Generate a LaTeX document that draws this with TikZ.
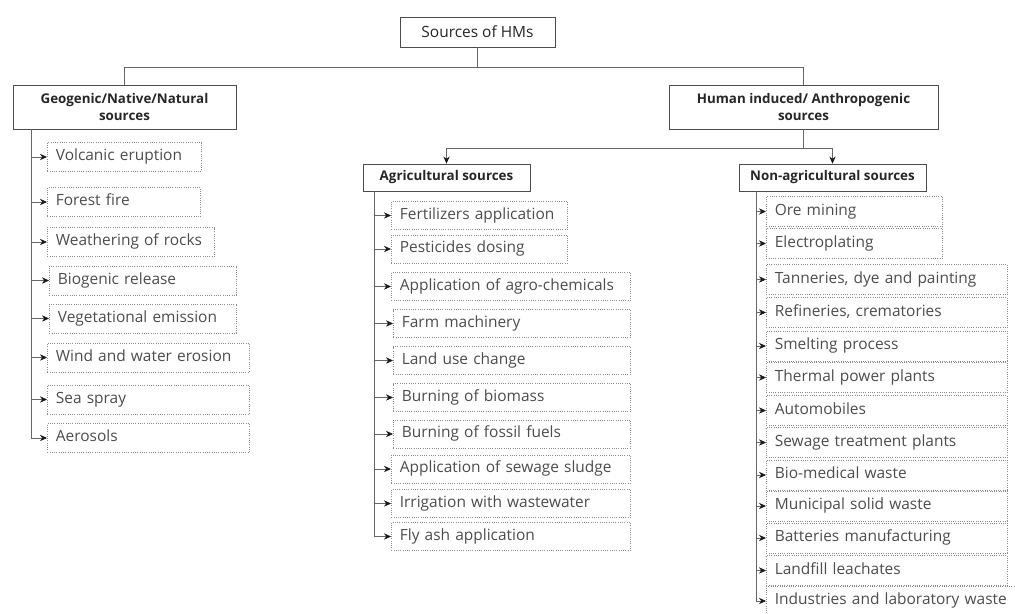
\documentclass[tikz,border=0pt]{standalone}
\usepackage{fontspec}
\setmainfont{Open Sans}
\usetikzlibrary{arrows.meta}
\newdimen\pxu \pxu=0.7113pt

\tikzset{
  head/.style={draw=black!70, line width=0.6pt, align=center, text=black!85,
    font=\fontsize{9.5}{12}\selectfont\bfseries, inner sep=0pt},
  leaf/.style={draw=black!45, densely dotted, line width=0.6pt, anchor=west, align=left,
    text=black!70, font=\fontsize{11}{13}\selectfont, inner xsep=6pt, inner ysep=0pt,
    text height=7.5pt, text depth=2.5pt, minimum height=#1},
  link/.style={draw=black!60, line width=0.5pt},
  tip/.style={link, -{Stealth[length=5pt, width=4.5pt, color=black!90]}}
}

\begin{document}
\begin{tikzpicture}[x=0.025cm, y=-0.025cm]
  \path[use as bounding box, clip] (0,0) rectangle (1015,613);

  % Nodes
  \node[head, font=\fontsize{11}{13}\selectfont, minimum width=155*\pxu, minimum height=30*\pxu] (root) at (477.5,32) {Sources of HMs};
  \node[head, minimum width=223*\pxu, minimum height=44*\pxu] (geo) at (124.5,107) {Geogenic/Native/Natural\\sources};
  \node[head, minimum width=269*\pxu, minimum height=44*\pxu] (hum) at (803.5,107) {Human induced/ Anthropogenic\\sources};
  \node[head, minimum width=167*\pxu, minimum height=27*\pxu] (agr) at (446.5,177.5) {Agricultural sources};
  \node[head, minimum width=187*\pxu, minimum height=27*\pxu] (nagr) at (832.5,177.5) {Non-agricultural sources};

  % Natural sources
  \foreach \i/\x/\y/\w/\txt in {1/47/157/154/Volcanic eruption, 2/47/202/153/Forest fire,
    3/47/242/167/Weathering of rocks, 4/49/280.5/187/Biogenic release,
    5/49/318.5/187/Vegetational emission, 6/47/357.5/202/Wind and water erosion,
    7/47/399.5/202/Sea spray, 8/47/438/202/Aerosols}
  {
    \pgfmathsetlengthmacro\tw{\w*\pxu-12pt}
    \node[leaf=29*\pxu, text width=\tw] (g\i) at (\x,\y) {\txt};
  }

  % Agricultural sources
  \foreach \i/\x/\y/\w/\txt in {1/391/215.5/176/Fertilizers application, 2/391/249/176/Pesticides dosing,
    3/391/286.5/239/Application of agro-chemicals, 4/393/323.5/237/Farm machinery,
    5/393/360.5/237/Land use change, 6/393/397.5/237/Burning of biomass,
    7/393/434/237/Burning of fossil fuels, 8/391/469/239/Application of sewage sludge,
    9/391/503.5/239/Irrigation with wastewater, 10/391/536.5/239/Fly ash application}
  {
    \pgfmathsetlengthmacro\tw{\w*\pxu-12pt}
    \node[leaf=28*\pxu, text width=\tw] (a\i) at (\x,\y) {\txt};
  }

  % Non-agricultural sources
  \foreach \i/\y/\w/\txt in {1/211.5/176/Ore mining, 2/243.5/176/Electroplating,
    3/279.5/241/{Tanneries, dye and painting}, 4/312.5/241/{Refineries, crematories},
    5/346/241/Smelting process, 6/377.5/241/Thermal power plants, 7/410.5/241/Automobiles,
    8/442.5/241/Sewage treatment plants, 9/475/241/Bio-medical waste,
    10/506/241/Municipal solid waste, 11/538/241/Batteries manufacturing,
    12/570.5/241/Landfill leachates, 13/601/262/Industries and laboratory waste}
  {
    \pgfmathsetlengthmacro\tw{\w*\pxu-12pt}
    \node[leaf=30*\pxu, text width=\tw] (n\i) at (766,\y) {\txt};
  }

  % Top level
  \coordinate (top) at (root.south |- 0,67);
  \coordinate (hj) at (hum.south |- 0,148);
  \draw[link] (root) -- (top);
  \draw[link] (top) -| (geo);
  \draw[link] (top) -| (hum);
  \draw[link] (hum) -- (hj);
  \draw[tip] (hj) -| (agr);
  \draw[tip] (hj) -| (nagr);

  % Spines with arrows to each source
  \coordinate (gs) at (31,0 |- geo.south);
  \coordinate (as) at (374,0 |- agr.south);
  \coordinate (ns) at (756,0 |- nagr.south);
  \foreach \i in {1,...,8}
    \draw[tip] (gs) |- (g\i.west);
  \foreach \i in {1,...,10}
    \draw[tip] (as) |- (a\i.west);
  \foreach \i in {1,...,13}
    \draw[tip] (ns) |- (n\i.west);
\end{tikzpicture}
\end{document}
